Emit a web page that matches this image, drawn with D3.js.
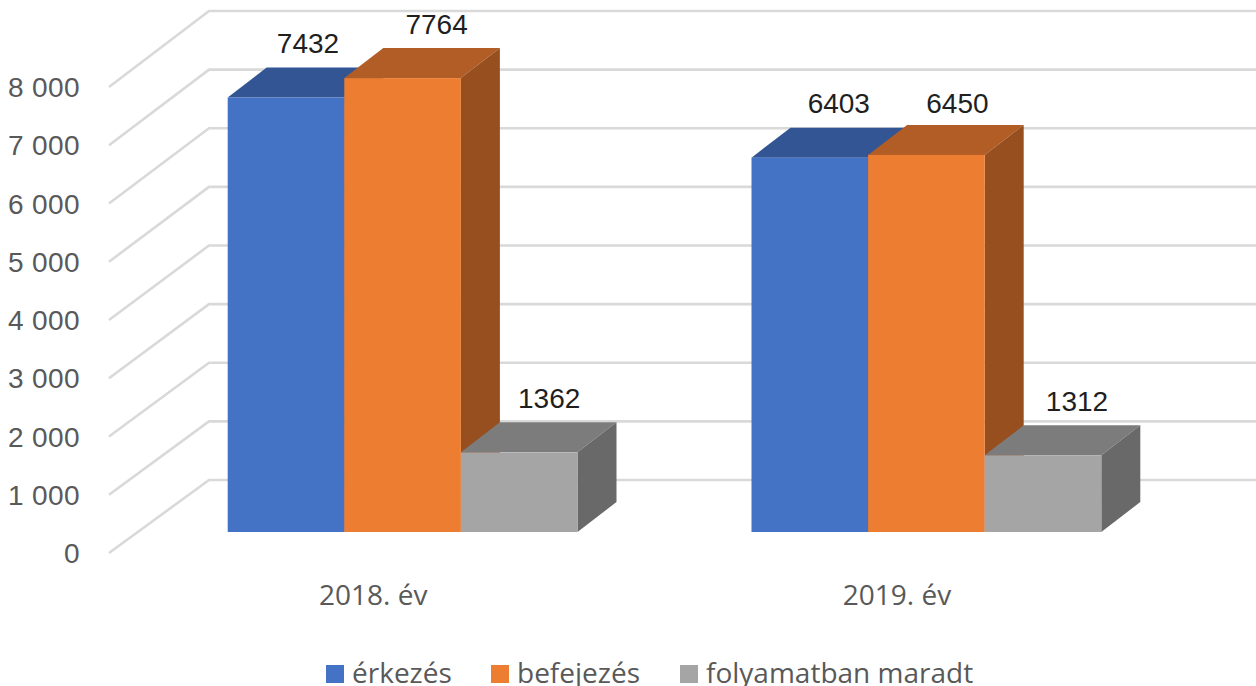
<!DOCTYPE html>
<html><head><meta charset="utf-8">
<script src="https://cdn.jsdelivr.net/npm/d3@7/dist/d3.min.js"></script>
<style>html,body{margin:0;padding:0;background:#fff;overflow:hidden}svg{display:block}</style>
</head><body><svg id="c" width="1256" height="686"></svg>
<script>
const categories = ["2018. év", "2019. év"];
const seriesNames = ["érkezés", "befejezés", "folyamatban maradt"];
const erkezes = [7432, 6403];
const befejezes = [7764, 6450];
const folyamatban = [1362, 1312];
const yTicks = [0,1000,2000,3000,4000,5000,6000,7000,8000];
const faceColors = ["#4472C4","#ED7D31","#A5A5A5"];
const topColors = ["#335593","#B15D25","#7C7C7C"];
const sideColors = ["#2B4880","#974F1F","#696969"];
const series = [erkezes, befejezes, folyamatban];
// hand-placed data label nudges, per series then per category
const labelNudge = [[22,29],[34,31],[30,34]];
const labelLift = [[45,45],[44,42],[44,44]];

const svg = d3.select("#c");
const font = "'Liberation Sans', Arial, sans-serif";
const axisFont = "'Open Sans', sans-serif";
const barDx = 39, barDy = -30;
const y = d3.scaleLinear().domain([0,8000]).range([532,64.3]);
const gridBack = d3.scaleLinear().domain([0,8000]).range([480,11]);
const gridFront = d3.scaleLinear().domain([0,8000]).range([553,87]);
const x0 = d3.scalePoint().domain(categories).range([227.7,751.5]);
const barW = 116.6;

const grid = svg.append("g");
yTicks.forEach(t=>{
  grid.append("path").attr("d",`M109,${gridFront(t)}L209,${gridBack(t)}L1256,${gridBack(t)}`)
    .attr("fill","none").attr("stroke","#D9D9D9").attr("stroke-width",2.6);
});
svg.append("g").selectAll("text").data(yTicks).join("text")
  .attr("x",80).attr("y",d=>gridFront(d)+10).attr("text-anchor","end")
  .attr("font-family",font).attr("font-size",28).attr("letter-spacing",0.4).attr("fill","#595959")
  .text(d=>d===0?"0":d3.format(",")(d).replace(","," "));

categories.forEach((c,ci)=>{
  const g = svg.append("g");
  series.forEach((s,si)=>{
    const x = x0(c) + si*barW, t = y(s[ci]), b = y(0);
    g.append("path").attr("d",`M${x},${t}L${x+barDx},${t+barDy}L${x+barW+barDx},${t+barDy}L${x+barW},${t}Z`).attr("fill",topColors[si]);
    g.append("path").attr("d",`M${x+barW},${t}L${x+barW+barDx},${t+barDy}L${x+barW+barDx},${b+barDy}L${x+barW},${b}Z`).attr("fill",sideColors[si]);
    g.append("rect").attr("x",x).attr("y",t).attr("width",barW).attr("height",b-t).attr("fill",faceColors[si]);
  });
  series.forEach((s,si)=>{
    const x = x0(c) + si*barW, t = y(s[ci]);
    svg.append("text").attr("x",x+barW/2+labelNudge[si][ci]).attr("y",t-labelLift[si][ci])
      .attr("text-anchor","middle").attr("font-family",font).attr("font-size",28).attr("fill","#1f1f1f").text(s[ci]);
  });
  svg.append("text").attr("x",x0(c)+145.5).attr("y",605).attr("text-anchor","middle")
    .attr("font-family",axisFont).attr("font-size",28).attr("fill","#595959").text(c);
});

const lx = [326,491,680];
seriesNames.forEach((n,i)=>{
  svg.append("rect").attr("x",lx[i]).attr("y",665).attr("width",18).attr("height",18).attr("fill",faceColors[i]);
  svg.append("text").attr("x",lx[i]+26).attr("y",683).attr("font-family",axisFont).attr("font-size",28)
    .attr("fill","#595959").text(n);
});
</script></body></html>
